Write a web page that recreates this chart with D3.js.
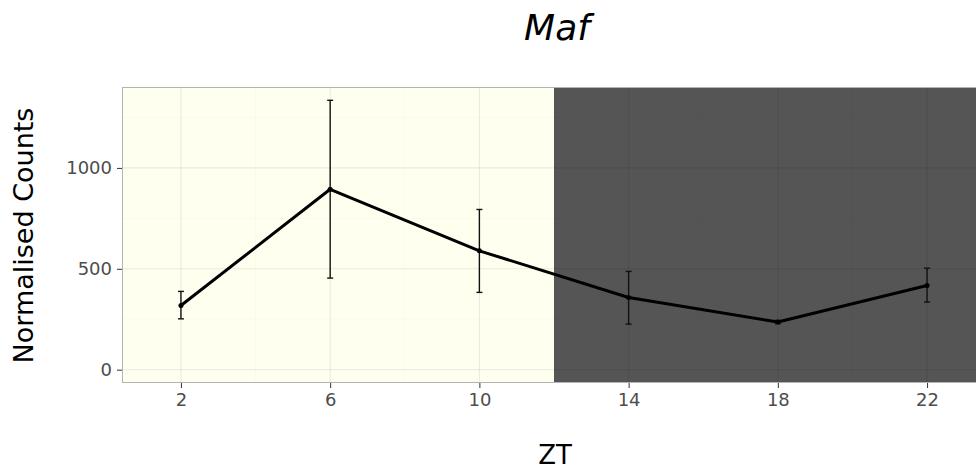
<!DOCTYPE html>
<html><head><meta charset="utf-8">
<script src="https://cdn.jsdelivr.net/npm/d3@7"></script>
<style>body{margin:0;background:#fff}svg{display:block}text{font-family:"DejaVu Sans",sans-serif}</style>
</head><body>
<svg id="chart" width="976" height="472"></svg>
<script>
const zt = [2, 6, 10, 14, 18, 22];
const counts = [318, 894, 589, 358, 236, 417];
const errLow = [252, 454, 383, 226, 228, 335];
const errHigh = [388, 1335, 794, 487, 244, 503];
const xTicks = [2, 6, 10, 14, 18, 22];
const yTicks = [0, 500, 1000];
const lightPeriod = [0, 12];
const darkPeriod = [12, 24];

const svg = d3.select("#chart");
const pL = 122, pT = 87, pB = 383, pR = 986;

const x = d3.scaleLinear().domain([0.42, 23.58]).range([pL, pR]);
const y = d3.scaleLinear().domain([-66, 1401]).range([pB, pT]);

svg.append("defs").append("clipPath").attr("id","pc")
  .append("rect").attr("x", pL).attr("y", pT).attr("width", pR-pL).attr("height", pB-pT);

const panel = svg.append("g").attr("clip-path","url(#pc)");
panel.append("rect").attr("x", x(x.domain()[0])).attr("y", pT)
  .attr("width", x(lightPeriod[1]) - x(x.domain()[0])).attr("height", pB-pT).attr("fill", "#fffff0");
panel.append("rect").attr("x", x(darkPeriod[0])).attr("y", pT)
  .attr("width", x(x.domain()[1]) - x(darkPeriod[0])).attr("height", pB-pT).attr("fill", "#555555");

// grid
const minorY = [250, 750, 1250];
const minorX = [4, 8, 12, 16, 20];
panel.selectAll(".gminy").data(minorY).join("line")
  .attr("x1", pL).attr("x2", pR).attr("y1", d=>y(d)).attr("y2", d=>y(d))
  .attr("stroke", "#000").attr("stroke-opacity", 0.04).attr("stroke-width", 0.6);
panel.selectAll(".gminx").data(minorX).join("line")
  .attr("y1", pT).attr("y2", pB).attr("x1", d=>x(d)).attr("x2", d=>x(d))
  .attr("stroke", "#000").attr("stroke-opacity", 0.04).attr("stroke-width", 0.6);
panel.selectAll(".gy").data(yTicks).join("line")
  .attr("x1", pL).attr("x2", pR).attr("y1", d=>y(d)).attr("y2", d=>y(d))
  .attr("stroke", "#000").attr("stroke-opacity", 0.08).attr("stroke-width", 1.1);
panel.selectAll(".gx").data(xTicks).join("line")
  .attr("y1", pT).attr("y2", pB).attr("x1", d=>x(d)).attr("x2", d=>x(d))
  .attr("stroke", "#000").attr("stroke-opacity", 0.08).attr("stroke-width", 1.1);

// error bars
const data = zt.map((d,i)=>({x:d, y:counts[i], lo:errLow[i], hi:errHigh[i]}));
const eb = panel.append("g").attr("stroke", "#111").attr("stroke-width", 1.4);
data.forEach(d=>{
  eb.append("line").attr("x1", x(d.x)).attr("x2", x(d.x)).attr("y1", y(d.lo)).attr("y2", y(d.hi));
  eb.append("line").attr("x1", x(d.x)-3).attr("x2", x(d.x)+3).attr("y1", y(d.lo)).attr("y2", y(d.lo));
  eb.append("line").attr("x1", x(d.x)-3).attr("x2", x(d.x)+3).attr("y1", y(d.hi)).attr("y2", y(d.hi));
});
panel.append("path").datum(data)
  .attr("d", d3.line().x(d=>x(d.x)).y(d=>y(d.y)))
  .attr("fill","none").attr("stroke","#000").attr("stroke-width", 3).attr("stroke-linejoin","round");
panel.selectAll(".pt").data(data).join("circle")
  .attr("cx", d=>x(d.x)).attr("cy", d=>y(d.y)).attr("r", 2.5).attr("fill", "#000");

// border
svg.append("rect").attr("x", pL+0.5).attr("y", pT+0.5).attr("width", pR-pL).attr("height", pB-pT-1)
  .attr("fill","none").attr("stroke","#b3b3b3").attr("stroke-width",1);

// axes
const xAxis = svg.append("g").attr("transform", `translate(0,${pB})`)
  .call(d3.axisBottom(x).tickValues(xTicks).tickFormat(d3.format("d")).tickSize(5).tickPadding(5));
const yAxis = svg.append("g").attr("transform", `translate(${pL},0)`)
  .call(d3.axisLeft(y).tickValues(yTicks).tickFormat(d3.format("d")).tickSize(5).tickPadding(5));
[xAxis, yAxis].forEach(a=>{
  a.select(".domain").remove();
  a.selectAll(".tick line").attr("stroke", "#333");
  a.selectAll(".tick text").attr("fill", "#4d4d4d").style("font-size", "18px").style("font-family", "DejaVu Sans");
});

svg.append("text").attr("x", 557).attr("y", 40).attr("text-anchor","middle")
  .style("font-size","36px").style("font-style","italic").attr("fill","#000").text("Maf");
svg.append("text").attr("x", 555).attr("y", 464).attr("text-anchor","middle")
  .style("font-size","26px").attr("fill","#000").text("ZT");
svg.append("text").attr("transform", "translate(33,235.5) rotate(-90)").attr("text-anchor","middle")
  .style("font-size","27px").attr("fill","#000").text("Normalised Counts");
</script>
</body></html>
